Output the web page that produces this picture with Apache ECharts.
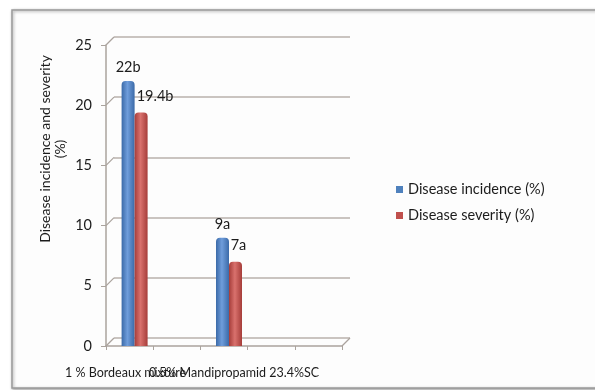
<!DOCTYPE html>
<html>
<head>
<meta charset="utf-8">
<script src="https://cdn.jsdelivr.net/npm/echarts@6/dist/echarts.min.js"></script>
<style>
  html, body { margin: 0; padding: 0; background: #ffffff; }
  #chart { width: 595px; height: 390px; }
</style>
</head>
<body>
<div id="chart"></div>
<script>
// Treatments along the floor (empty slots keep the spacing of the original sheet)
const categories = ['1 % Bordeaux mixture', '', '0.5% Mandipropamid 23.4%SC', '', ''];
// Disease incidence (%) and severity (%) per treatment
const incidence = [22, null, 9, null, null];
const severity = [19.4, null, 7, null, null];
// Significance letters printed after each value
const incidenceLetters = ['b', '', 'a', '', ''];
const severityLetters = ['b', '', 'a', '', ''];
// Value axis
const yMin = 0, yMax = 25, yStep = 5;
const yTicks = [0, 5, 10, 15, 20, 25];

// Layout tweaks for the severity labels (horizontal nudge, px)
const severityLabelNudge = [14, 0, 3, 0, 0];

const FONT = 'Lato';
const TEXT = '#1c1c1c';
const LINE = '#aaa39d';
const DEPTH = 8; // oblique offset of the back wall

const chart = echarts.init(document.getElementById('chart'), null, { renderer: 'canvas' });

function cylinder(edge, mid) {
  return new echarts.graphic.LinearGradient(0, 0, 1, 0, [
    { offset: 0, color: edge },
    { offset: 0.45, color: mid },
    { offset: 1, color: edge }
  ]);
}

const option = {
  animation: false,
  backgroundColor: '#ffffff',
  textStyle: { fontFamily: FONT },
  graphic: [
    {
      type: 'rect', z: -10,
      shape: { x: 12, y: 10, width: 640, height: 378 },
      style: { fill: '#fdfdfd', stroke: '#9a9a9a', lineWidth: 1.5,
               shadowBlur: 3, shadowColor: 'rgba(0,0,0,0.35)', shadowOffsetX: 1, shadowOffsetY: 1 }
    },
    {
      type: 'text', x: 53, y: 149, rotation: Math.PI / 2,
      style: {
        text: 'Disease incidence and severity\n(%)',
        font: '14px ' + FONT, fill: TEXT,
        align: 'center', verticalAlign: 'middle', lineHeight: 15
      }
    }
  ],
  legend: {
    orient: 'vertical', left: 391, top: 177,
    itemWidth: 7, itemHeight: 7, itemGap: 11, icon: 'rect',
    textStyle: { fontSize: 14.5, color: TEXT, fontFamily: FONT },
    data: [
      { name: 'Disease incidence (%)', itemStyle: { color: '#4f81bd' } },
      { name: 'Disease severity (%)', itemStyle: { color: '#c0504d' } }
    ]
  },
  grid: [
    { left: 106, top: 45, width: 236, height: 301 },   // front: axes
    { left: 114, top: 37, width: 236, height: 301 },   // back wall: gridlines
    { left: 111, top: 45, width: 236, height: 301 }    // bars
  ],
  xAxis: [
    {
      gridIndex: 0, type: 'category', data: categories,
      axisLine: { lineStyle: { color: LINE, width: 1.5 } },
      axisTick: { show: true, interval: 0, length: 4, lineStyle: { color: LINE } },
      axisLabel: {
        interval: 0, color: TEXT, fontSize: 12.5, margin: 20, fontFamily: FONT,
        formatter: (v, i) => i === 2 ? '{right|' + v + '}' : (i === 0 ? '{left|' + v + '}' : v),
        rich: {
          right: { fontSize: 12.5, color: TEXT, fontFamily: FONT, padding: [0, 0, 0, 20] },
          left: { fontSize: 12.5, color: TEXT, fontFamily: FONT, padding: [0, 8, 0, 0] }
        }
      }
    },
    { gridIndex: 1, type: 'category', data: categories, show: false },
    { gridIndex: 2, type: 'category', data: categories, show: false }
  ],
  yAxis: [
    {
      gridIndex: 0, type: 'value', min: yMin, max: yMax, interval: yStep,
      axisLine: { show: true, lineStyle: { color: LINE, width: 1.5 } },
      axisTick: { show: true, length: 5, lineStyle: { color: LINE } },
      axisLabel: { color: TEXT, fontSize: 14.5, margin: 14, fontFamily: FONT },
      splitLine: { show: false }
    },
    {
      gridIndex: 1, type: 'value', min: yMin, max: yMax, interval: yStep,
      axisLine: { show: false }, axisTick: { show: false }, axisLabel: { show: false },
      splitLine: { show: true, lineStyle: { color: '#b8b1ab', width: 1.5 } }
    },
    { gridIndex: 2, type: 'value', min: yMin, max: yMax, interval: yStep, show: false }
  ],
  series: [
    {
      // oblique links between the front axis and the back wall
      type: 'custom', xAxisIndex: 0, yAxisIndex: 0, silent: true,
      data: yTicks.map(v => [0, v]),
      renderItem: function (params, api) {
        const cs = params.coordSys;
        const y = api.coord([0, api.value(1)])[1];
        const x0 = cs.x;
        const children = [{
          type: 'line',
          shape: { x1: x0, y1: y, x2: x0 + DEPTH, y2: y - DEPTH },
          style: { stroke: LINE, lineWidth: 1.2 }
        }];
        if (api.value(1) === yMin) {
          children.push({
            type: 'line',
            shape: { x1: x0 + cs.width, y1: y, x2: x0 + cs.width + DEPTH, y2: y - DEPTH },
            style: { stroke: LINE, lineWidth: 1.2 }
          });
        }
        return { type: 'group', children: children };
      }
    },
    {
      name: 'Disease incidence (%)', type: 'bar', xAxisIndex: 2, yAxisIndex: 2,
      data: incidence, barWidth: 13, barGap: '0%',
      itemStyle: { color: cylinder('#3b6aa8', '#6f9ddb'), borderRadius: [4, 4, 0, 0] },
      label: {
        show: true, position: 'top', distance: 6, color: TEXT, fontSize: 14.5, fontFamily: FONT,
        formatter: p => p.value + incidenceLetters[p.dataIndex]
      }
    },
    {
      name: 'Disease severity (%)', type: 'bar', xAxisIndex: 2, yAxisIndex: 2,
      data: severity.map((v, i) => ({ value: v, label: { offset: [severityLabelNudge[i], 0] } })),
      barWidth: 13, barGap: '0%',
      itemStyle: { color: cylinder('#a63d3a', '#d9716d'), borderRadius: [4, 4, 0, 0] },
      label: {
        show: true, position: 'top', distance: 9, color: TEXT, fontSize: 14.5, fontFamily: FONT,
        formatter: p => p.value + severityLetters[p.dataIndex]
      }
    }
  ]
};

chart.setOption(option);
</script>
</body>
</html>
